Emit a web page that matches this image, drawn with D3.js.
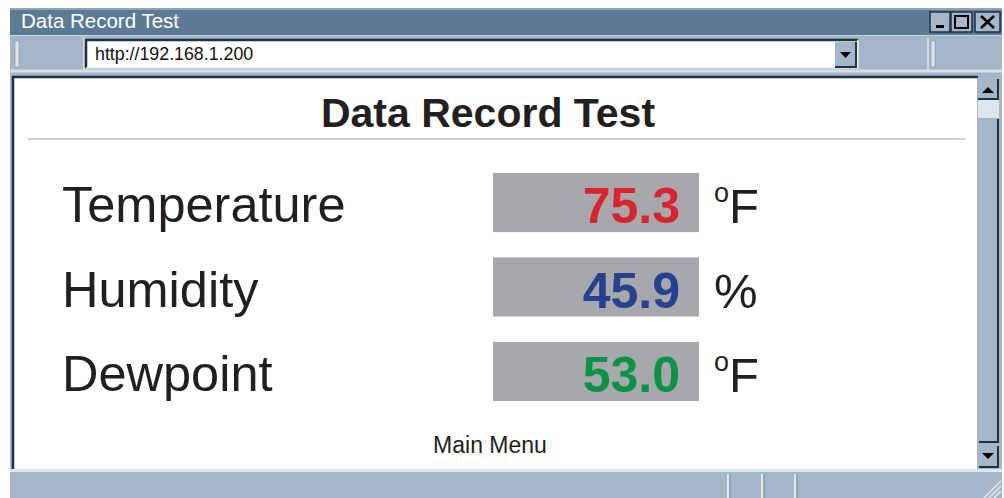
<!DOCTYPE html>
<html>
<head>
<meta charset="utf-8">
<script src="https://cdn.jsdelivr.net/npm/d3@7"></script>
<style>
  html, body { margin: 0; padding: 0; background: #fff; }
  svg { display: block; font-family: "Liberation Sans", Arial, sans-serif; }
</style>
</head>
<body>
<svg id="win"></svg>
<script>
// readings shown on the page
var labels = ["Temperature", "Humidity", "Dewpoint"]
var values = [75.3, 45.9, 53.0]
var units = ["F", "%", "F"]
var degree = [true, false, true]
var valueColors = ["#d9232e", "#26418f", "#0b9247"]
var pageTitle = "Data Record Test"
var address = "http://192.168.1.200"
var linkText = "Main Menu"

var width = 1004
var height = 498
var frame = "#a4b6c8"
var dark = "#1e3243"

const svg = d3.select("#win")
  .attr("width", width)
  .attr("height", height)
  .attr("viewBox", [0, 0, width, height])

// ---- window chrome ----
svg.append("rect").attr("x", 10).attr("y", 8).attr("width", 992).attr("height", 490).attr("fill", frame)

// title bar
svg.append("rect").attr("x", 10).attr("y", 8).attr("width", 992).attr("height", 27).attr("fill", "#5b7b95")
svg.append("line").attr("x1", 10).attr("x2", 1002).attr("y1", 9).attr("y2", 9).attr("stroke", "#8ea5b8").attr("stroke-width", 2)
svg.append("line").attr("x1", 10).attr("x2", 1002).attr("y1", 35.5).attr("y2", 35.5).attr("stroke", "#c9d5e0").attr("stroke-width", 1)
svg.append("text").attr("x", 21).attr("y", 28).attr("fill", "#fff").attr("font-size", 20.5).text(pageTitle)

// window buttons
var btns = [{x: 930, w: 20, k: "min"}, {x: 951, w: 21, k: "max"}, {x: 975, w: 25, k: "close"}]
var bg = svg.append("g").selectAll("g").data(btns).join("g")
bg.append("rect").attr("x", d => d.x).attr("y", 12).attr("width", d => d.w).attr("height", 20)
  .attr("fill", frame).attr("stroke", dark).attr("stroke-width", 1.5)
bg.filter(d => d.k == "min").append("rect").attr("x", d => d.x + 6).attr("y", 25).attr("width", 8).attr("height", 3).attr("fill", "#000")
bg.filter(d => d.k == "max").append("rect").attr("x", d => d.x + 4).attr("y", 16).attr("width", 13).attr("height", 12)
  .attr("fill", "none").attr("stroke", "#000").attr("stroke-width", 2)
bg.filter(d => d.k == "close").append("path").attr("d", d => `M${d.x + 6},16L${d.x + 19},28M${d.x + 19},16L${d.x + 6},28`)
  .attr("stroke", "#000").attr("stroke-width", 2.5)

// address row
svg.append("rect").attr("x", 10).attr("y", 37).attr("width", 992).attr("height", 33).attr("fill", frame)
svg.append("line").attr("x1", 10).attr("x2", 1002).attr("y1", 71).attr("y2", 71).attr("stroke", "#d6dfe8").attr("stroke-width", 3)
svg.append("rect").attr("x", 15).attr("y", 41).attr("width", 4).attr("height", 26).attr("fill", "#dfe7ee").attr("stroke", "#7d93a7").attr("stroke-width", 0.6)
svg.append("rect").attr("x", 931).attr("y", 41).attr("width", 4).attr("height", 26).attr("fill", "#dfe7ee").attr("stroke", "#7d93a7").attr("stroke-width", 0.6)
svg.append("line").attr("x1", 928).attr("x2", 928).attr("y1", 38).attr("y2", 70).attr("stroke", "#dfe7ee").attr("stroke-width", 1.5)
svg.append("line").attr("x1", 84).attr("x2", 84).attr("y1", 38).attr("y2", 70).attr("stroke", "#dfe7ee").attr("stroke-width", 1.5)
svg.append("rect").attr("x", 86).attr("y", 40).attr("width", 772).attr("height", 28).attr("fill", "#fff")
svg.append("path").attr("d", "M86,68V40H858").attr("fill", "none").attr("stroke", dark).attr("stroke-width", 2.5)
svg.append("path").attr("d", "M858,40V68H86").attr("fill", "none").attr("stroke", "#dfe7ee").attr("stroke-width", 1.5)
svg.append("text").attr("x", 95).attr("y", 60).attr("fill", "#111").attr("font-size", 17.8).text(address)
svg.append("rect").attr("x", 835).attr("y", 42).attr("width", 21).attr("height", 25).attr("fill", frame)
svg.append("path").attr("d", "M835,67H856V42").attr("fill", "none").attr("stroke", dark).attr("stroke-width", 2)
svg.append("path").attr("d", "M840,52H851L845.5,58Z").attr("fill", "#000")

// content area
svg.append("rect").attr("x", 12).attr("y", 77).attr("width", 966).attr("height", 392).attr("fill", "#fff")
svg.append("path").attr("d", "M13,469V77H978").attr("fill", "none").attr("stroke", dark).attr("stroke-width", 2.5)
svg.append("line").attr("x1", 10).attr("x2", 1002).attr("y1", 470.5).attr("y2", 470.5).attr("stroke", "#dfe7ee").attr("stroke-width", 3)

// scrollbar
svg.append("rect").attr("x", 977).attr("y", 78).attr("width", 22).attr("height", 391).attr("fill", frame)
svg.append("rect").attr("x", 978).attr("y", 100).attr("width", 21).attr("height", 18).attr("fill", "#dde5ec")
svg.append("path").attr("d", "M979,442H998V119").attr("fill", "none").attr("stroke", dark).attr("stroke-width", 2)
svg.append("path").attr("d", "M978,99H998V79").attr("fill", "none").attr("stroke", dark).attr("stroke-width", 2)
svg.append("path").attr("d", "M982,93H994L988,87Z").attr("fill", "#000")
svg.append("path").attr("d", "M979,467H998V446").attr("fill", "none").attr("stroke", dark).attr("stroke-width", 2)
svg.append("path").attr("d", "M982,453H994L988,459Z").attr("fill", "#000")

// status bar
svg.selectAll("line.sep").data([728, 762, 795]).join("line").attr("class", "sep")
  .attr("x1", d => d).attr("x2", d => d).attr("y1", 474).attr("y2", 498)
  .attr("stroke", "#e3eaf0").attr("stroke-width", 2)
svg.selectAll("line.sep2").data([730, 764, 797]).join("line").attr("class", "sep2")
  .attr("x1", d => d).attr("x2", d => d).attr("y1", 474).attr("y2", 498)
  .attr("stroke", "#7d93a7").attr("stroke-width", 1)
svg.selectAll("line.grip").data([0, 5, 10]).join("line").attr("class", "grip")
  .attr("x1", 1001).attr("y1", d => 481 + d).attr("x2", d => 984 + d).attr("y2", 498)
  .attr("stroke", "#e3eaf0").attr("stroke-width", 1.5)

// ---- page content ----
const page = svg.append("g")

page.append("text").attr("x", 488).attr("y", 127).attr("text-anchor", "middle")
  .attr("font-size", 41).attr("font-weight", "bold").attr("fill", "#231f20").text(pageTitle)
page.append("line").attr("x1", 28).attr("x2", 965).attr("y1", 139).attr("y2", 139)
  .attr("stroke", "#c6d1dc").attr("stroke-width", 2)

var data = labels.map((d, i) => ({label: d, value: values[i], unit: units[i], deg: degree[i], color: valueColors[i]}))

var y = d3.scaleBand()
  .domain(labels)
  .range([173, 401])
  .paddingInner(0.3)
  .paddingOuter(0)

var x = d3.scaleLinear()
  .domain([0, 1])
  .range([493, 699])

var fmt = d3.format(".1f")

const row = page.selectAll("g.row").data(data).join("g").attr("class", "row")
  .attr("transform", d => `translate(0,${y(d.label)})`)

row.append("text").attr("x", 62).attr("y", y.bandwidth() - 10)
  .attr("font-size", 50.5).attr("fill", "#231f20").text(d => d.label)

row.append("rect").attr("x", x(0)).attr("y", 0)
  .attr("width", x(1) - x(0)).attr("height", y.bandwidth()).attr("fill", "#a7a8ac")

row.append("text").attr("x", x(1) - 19).attr("y", y.bandwidth() - 9).attr("text-anchor", "end")
  .attr("font-size", 50).attr("font-weight", "bold").attr("fill", d => d.color).text(d => fmt(d.value))

// unit: superscript "o" for degrees, then the letter
const unit = row.append("text").attr("x", 714).attr("y", y.bandwidth() - 9)
  .attr("font-size", 49).attr("fill", "#231f20")
unit.filter(d => d.deg).append("tspan").attr("font-size", 27).attr("dy", -21).text("o")
unit.append("tspan").attr("dy", d => d.deg ? 21 : 0).text(d => d.unit)

page.append("text").attr("x", 490).attr("y", 453).attr("text-anchor", "middle")
  .attr("font-size", 23).attr("fill", "#231f20").text(linkText)
</script>
</body>
</html>
